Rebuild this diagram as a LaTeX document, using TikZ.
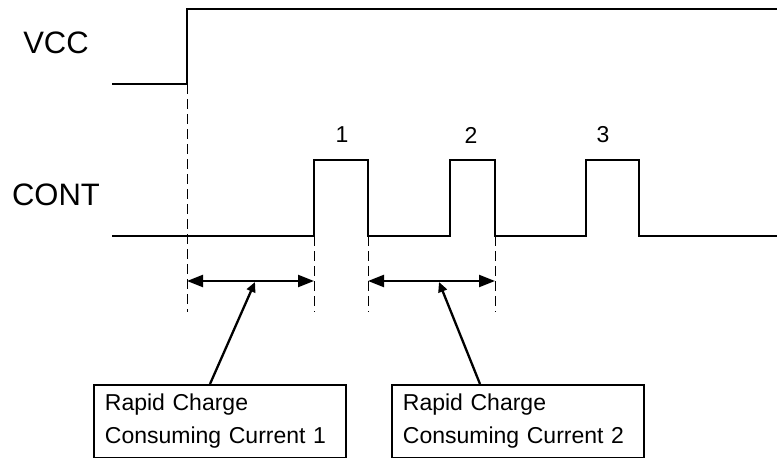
\documentclass[tikz,border=0pt]{standalone}
\usepackage{fontspec}
\setmainfont{Liberation Sans}
\usetikzlibrary{arrows.meta}

\tikzset{
  sig/.style={line width=2.3pt, line join=miter},
  guide/.style={line width=1pt, dash pattern=on 10pt off 5pt},
  span/.style={line width=2.3pt, {Triangle[length=16pt,width=12pt]}-{Triangle[length=16pt,width=12pt]}},
  ptr/.style={line width=2.3pt, -{Triangle[length=10pt,width=9pt]}},
  note/.style={draw, line width=1.8pt, anchor=north west, align=left,
    inner xsep=11pt, minimum width=252pt, text width=230pt,
    minimum height=73pt, font=\fontsize{23}{33}\selectfont},
  signame/.style={font=\fontsize{31}{31}\selectfont},
  num/.style={font=\fontsize{23}{23}\selectfont}
}

\begin{document}
\begin{tikzpicture}[x=1pt,y=-1pt]
\useasboundingbox (0,0) rectangle (777,458);
% signal names
\node[signame] (vcc) at (56,43) {VCC};
\node[signame] (cont) at (56,195) {CONT};
% edges of the waveforms
\coordinate (v0) at (112,84);
\coordinate (v1) at (187,84);
\coordinate (v2) at (187,9);
\coordinate (v3) at (777,9);
\coordinate (c0) at (112,236);
\coordinate (c1) at (314,236);
\coordinate (c2) at (368,236);
\coordinate (c3) at (450,236);
\coordinate (c4) at (495,236);
\coordinate (c5) at (586,236);
\coordinate (c6) at (639,236);
\coordinate (c7) at (777,236);
% ends of the guides
\coordinate (g0) at (187,312);
\coordinate (g1) at (314,312);
\coordinate (g2) at (368,312);
\coordinate (g3) at (495,312);
\coordinate (s0) at (187,281);
\coordinate (s1) at (314,281);
\coordinate (s2) at (368,281);
\coordinate (s3) at (495,281);
\draw[sig] (v0) -- (v1) -- (v2) -- (v3);
\draw[sig] (c0) -- (c1) -- ++(0,-76) -| (c2) -- (c3) -- ++(0,-76) -| (c4)
  -- (c5) -- ++(0,-76) -| (c6) -- (c7);
% pulse numbers
\node[num] (n1) at (342,135) {1};
\node[num] (n2) at (471,135) {2};
\node[num] (n3) at (603,135) {3};
% guides and spans
\draw[guide] (v1) -- (g0);
\draw[guide] (c1) -- (g1);
\draw[guide] (c2) -- (g2);
\draw[guide] (c4) -- (g3);
\draw[span] (s0) -- (s1);
\draw[span] (s2) -- (s3);
% notes
\node[note] (box1) at (93,384) {Rapid Charge\\Consuming Current 1};
\node[note] (box2) at (391,384) {Rapid Charge\\Consuming Current 2};
\coordinate (tip1) at (255,282);
\coordinate (tip2) at (439,282);
\coordinate (foot1) at (210,384);
\coordinate (foot2) at (480,384);
\draw[ptr] (foot1) -- (tip1);
\draw[ptr] (foot2) -- (tip2);
\end{tikzpicture}
\end{document}
